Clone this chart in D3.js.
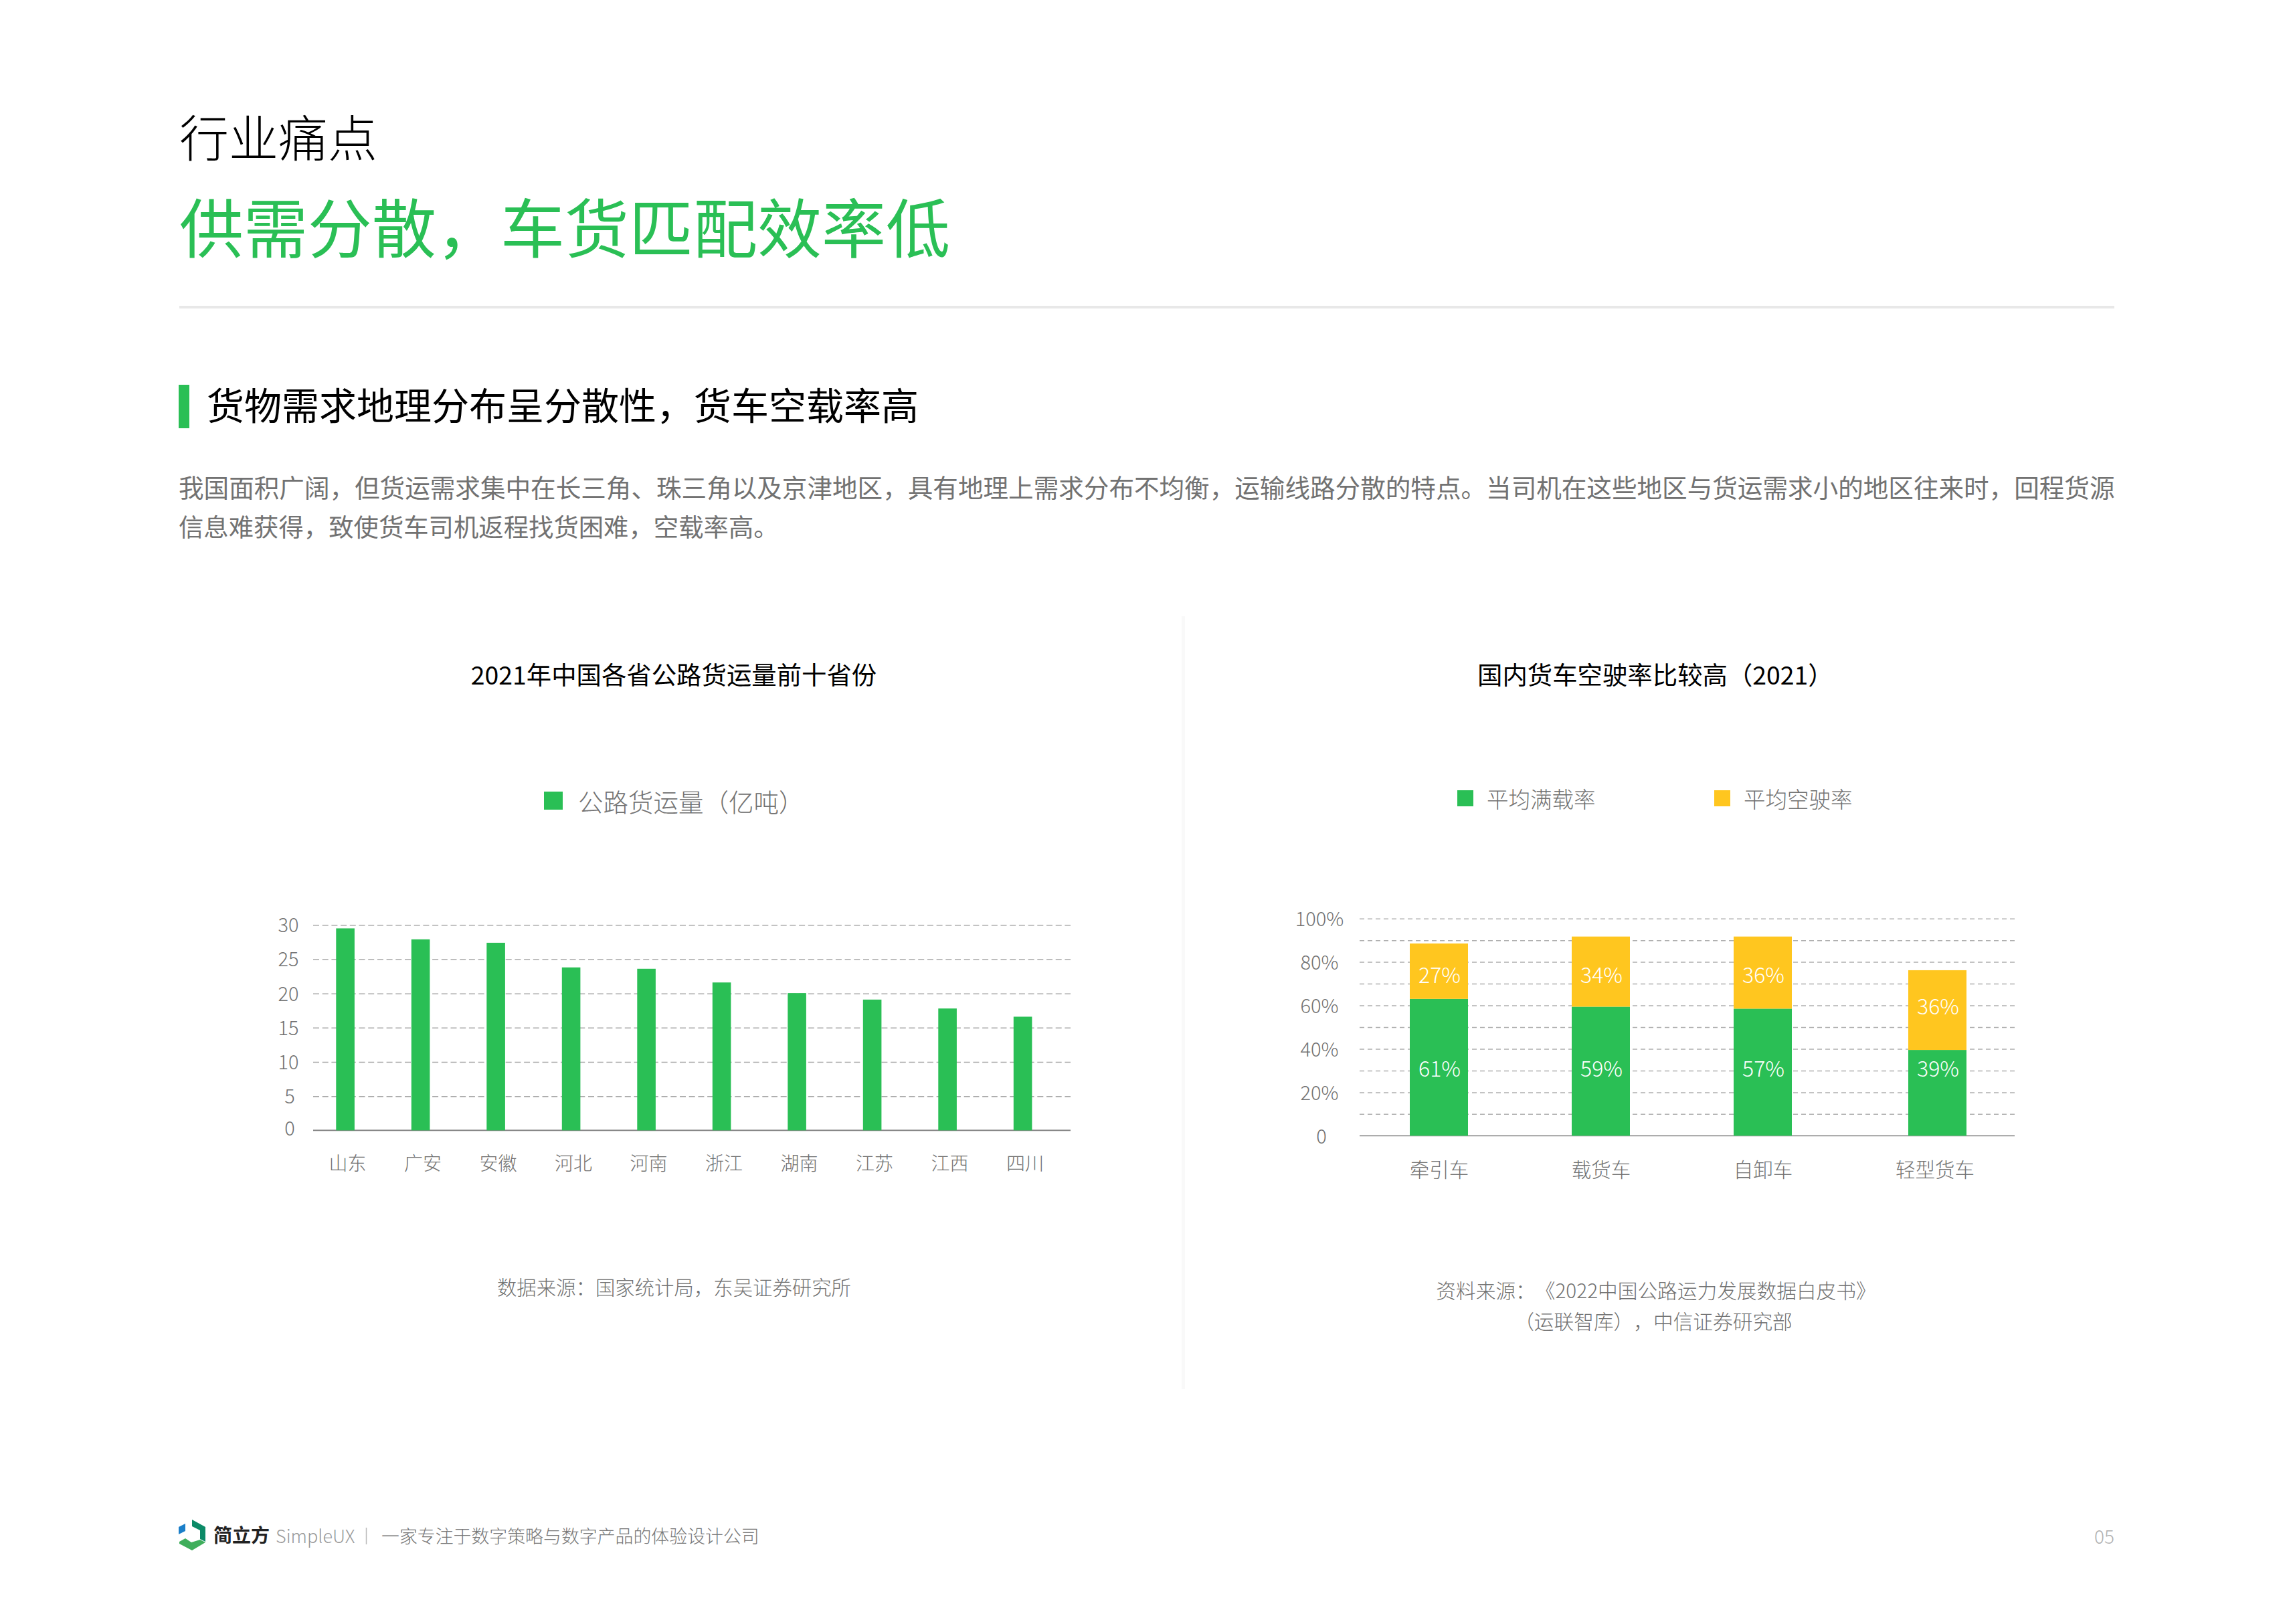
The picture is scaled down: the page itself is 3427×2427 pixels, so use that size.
<!DOCTYPE html>
<html>
<head>
<meta charset="utf-8">
<script src="https://cdn.jsdelivr.net/npm/d3@7"></script>
<style>
  body { margin: 0; background: #fff; }
  svg text { font-family: "Noto Sans CJK SC", "Noto Sans", sans-serif; text-spacing-trim: space-all; }
</style>
</head>
<body>
<div id="page"></div>
<script>
const FRAME_WIDTH = 3427;
const FRAME_HEIGHT = 2427;
const GREEN = "#2abf55";
const YELLOW = "#ffc61f";
const GREY = "#727272";

// left chart
const provinces = ["山东", "广安", "安徽", "河北", "河南", "浙江", "湖南", "江苏", "江西", "四川"];
const freight = [29.5, 27.9, 27.4, 23.8, 23.6, 21.6, 20.05, 19.1, 17.8, 16.6];
const freightTicks = [0, 5, 10, 15, 20, 25, 30];

// right chart (bar heights, they do not follow the printed labels)
const trucks = ["牵引车", "载货车", "自卸车", "轻型货车"];
const fullLoad = [63.0, 59.4, 58.5, 39.5];
const emptyLoad = [25.5, 32.3, 33.2, 36.7];
const fullLabels = ["61%", "59%", "57%", "39%"];
const emptyLabels = ["27%", "34%", "36%", "36%"];
const fullLabelLevels = [31.5, 31.5, 31.5, 31.5];
const emptyLabelLevels = [74.5, 74.5, 74.5, 60.3];
const percentTicks = [0, 10, 20, 30, 40, 50, 60, 70, 80, 90, 100];
const percentLabelled = [0, 20, 40, 60, 80, 100];

const paragraph = [
  "我国面积广阔，但货运需求集中在长三角、珠三角以及京津地区，具有地理上需求分布不均衡，运输线路分散的特点。当司机在这些地区与货运需求小的地区往来时，回程货源",
  "信息难获得，致使货车司机返程找货困难，空载率高。"
];

let svg = d3.select("#page")
  .append("svg")
    .attr("width", FRAME_WIDTH)
    .attr("height", FRAME_HEIGHT)
    .style("display", "block");

function addText(str, x, y, size, color, opts) {
  opts = opts || {};
  return svg.append("text")
    .attr("x", x)
    .attr("y", y)
    .attr("font-size", size)
    .attr("fill", color)
    .attr("font-weight", opts.weight || 400)
    .attr("text-anchor", opts.anchor || "start")
    .attr("dominant-baseline", "central")
    .text(str);
}

function addLegend(label, x, y, w, h, textX, textY, size, color) {
  svg.append("rect")
    .attr("x", x).attr("y", y)
    .attr("width", w).attr("height", h)
    .attr("fill", color);
  addText(label, textX, textY, size, GREY, {weight: 300});
}

// header
addText("行业痛点", 268, 201.5, 74, "#000", {weight: 300});
addText("供需分散，车货匹配效率低", 268, 335.5, 96, GREEN);
svg.append("rect")
  .attr("x", 268).attr("y", 457)
  .attr("width", 2892).attr("height", 4)
  .attr("fill", "#e8e8e8");

svg.append("rect")
  .attr("x", 267).attr("y", 575)
  .attr("width", 16).attr("height", 65)
  .attr("fill", GREEN);
addText("货物需求地理分布呈分散性，货车空载率高", 309, 602.5, 56, "#000");

// first line is justified in the original, so it runs a little wider than the second
addText(paragraph[0], 267, 726, 37.58, GREY);
addText(paragraph[1], 267, 786, 37.37, GREY);

// divider between the two charts
svg.append("line")
  .attr("x1", 1768.5).attr("x2", 1768.5)
  .attr("y1", 921).attr("y2", 2076)
  .attr("stroke", "#f9f9f9")
  .attr("stroke-width", 5);

function styleGrid(axisG, dash, color) {
  axisG.select(".domain").remove();
  axisG.selectAll(".tick line")
    .attr("stroke", color)
    .attr("stroke-width", 1.5)
    .attr("stroke-dasharray", dash);
  axisG.selectAll(".tick").filter(function(d) { return d === 0; }).select("line").remove();
}

function build_freight() {
  const LEFT = 468, RIGHT = 1600, TOP = 1382.3, BOTTOM = 1689.3;

  addText("2021年中国各省公路货运量前十省份", 1007, 1006.5, 37.4, "#000", {anchor: "middle"});
  addLegend("公路货运量（亿吨）", 813, 1183, 28, 27, 864, 1196, 37.5, GREEN);

  let x = d3.scaleBand()
    .domain(provinces)
    .range([459.85, 1584.85])
    .paddingInner(0.7547)
    .paddingOuter(0.3773);
  let y = d3.scaleLinear()
    .domain([0, 30])
    .range([BOTTOM, TOP]);

  let yAxis = svg.append("g")
    .attr("transform", "translate(" + LEFT + ",0)")
    .call(d3.axisLeft(y).tickValues(freightTicks).tickSize(-(RIGHT - LEFT)));
  styleGrid(yAxis, "9 4.7", "#a8a8a8");
  yAxis.selectAll(".tick text")
    .attr("x", function(d) { return d < 10 ? -35 : -37; })
    .attr("dy", function(d) { return d === 0 ? "0.25em" : "0.36em"; })
    .attr("text-anchor", "middle")
    .attr("font-size", 29)
    .attr("font-weight", 300)
    .attr("fill", GREY);

  svg.append("line")
    .attr("x1", LEFT).attr("x2", RIGHT)
    .attr("y1", BOTTOM).attr("y2", BOTTOM)
    .attr("stroke", "#888")
    .attr("stroke-width", 2);

  svg.append("g").selectAll("rect")
    .data(provinces)
    .enter()
    .append("rect")
      .attr("x", function(d) { return x(d); })
      .attr("y", function(d, i) { return y(freight[i]); })
      .attr("width", x.bandwidth())
      .attr("height", function(d, i) { return BOTTOM - y(freight[i]); })
      .attr("fill", GREEN);

  let xAxis = svg.append("g")
    .attr("transform", "translate(0," + BOTTOM + ")")
    .call(d3.axisBottom(x).tickSize(0).tickPadding(40));
  xAxis.select(".domain").remove();
  xAxis.selectAll(".tick text")
    .attr("dx", 3.5)
    .attr("font-size", 28)
    .attr("font-weight", 300)
    .attr("fill", GREY);

  addText("数据来源：国家统计局，东吴证券研究所", 1007.5, 1922, 29.4, GREY, {anchor: "middle", weight: 300});
}

function build_empty_rate() {
  const LEFT = 2032, RIGHT = 3011, TOP = 1372.7, BOTTOM = 1697.3;
  const BAR_WIDTH = 87;

  addText("国内货车空驶率比较高（2021）", 2208, 1006.5, 37.4, "#000");
  addLegend("平均满载率", 2178, 1181, 24, 24, 2222, 1192, 32.5, GREEN);
  addLegend("平均空驶率", 2562, 1181, 24, 24, 2606, 1192, 32.5, YELLOW);

  // the last bar sits further right than the others, so not a band scale
  let x = d3.scaleOrdinal()
    .domain(trucks)
    .range([2150.5, 2392.5, 2634.5, 2895.5]);
  let y = d3.scaleLinear()
    .domain([0, 100])
    .range([BOTTOM, TOP]);

  let yAxis = svg.append("g")
    .attr("transform", "translate(" + LEFT + ",0)")
    .call(d3.axisLeft(y)
      .tickValues(percentTicks)
      .tickSize(-(RIGHT - LEFT))
      .tickFormat(function(d) {
        if (percentLabelled.indexOf(d) < 0) return "";
        return d === 0 ? "0" : d + "%";
      }));
  styleGrid(yAxis, "7 5", "#b0b0b0");
  yAxis.selectAll(".tick text")
    .attr("x", function(d) { return d === 0 ? -57 : -60; })
    .attr("dy", "0.38em")
    .attr("text-anchor", "middle")
    .attr("font-size", 29)
    .attr("font-weight", 300)
    .attr("fill", GREY);

  svg.append("line")
    .attr("x1", LEFT).attr("x2", RIGHT)
    .attr("y1", BOTTOM).attr("y2", BOTTOM)
    .attr("stroke", "#a0a0a0")
    .attr("stroke-width", 2);

  let stack = svg.append("g");
  stack.selectAll(".full")
    .data(trucks)
    .enter()
    .append("rect")
      .attr("class", "full")
      .attr("x", function(d) { return x(d) - BAR_WIDTH / 2; })
      .attr("y", function(d, i) { return y(fullLoad[i]); })
      .attr("width", BAR_WIDTH)
      .attr("height", function(d, i) { return BOTTOM - y(fullLoad[i]); })
      .attr("fill", GREEN);
  stack.selectAll(".empty")
    .data(trucks)
    .enter()
    .append("rect")
      .attr("class", "empty")
      .attr("x", function(d) { return x(d) - BAR_WIDTH / 2; })
      .attr("y", function(d, i) { return y(fullLoad[i] + emptyLoad[i]); })
      .attr("width", BAR_WIDTH)
      .attr("height", function(d, i) { return y(fullLoad[i]) - y(fullLoad[i] + emptyLoad[i]); })
      .attr("fill", YELLOW);

  trucks.forEach(function(d, i) {
    addText(fullLabels[i], x(d) + 1, y(fullLabelLevels[i]), 32, "#fff", {anchor: "middle", weight: 300});
    addText(emptyLabels[i], x(d) + 1, y(emptyLabelLevels[i]), 32, "#fff", {anchor: "middle", weight: 300});
  });

  let xAxis = svg.append("g")
    .attr("transform", "translate(0," + BOTTOM + ")")
    .call(d3.axisBottom(x).tickSize(0).tickPadding(41));
  xAxis.select(".domain").remove();
  xAxis.selectAll(".tick text")
    .attr("dx", function(d) { return d === "轻型货车" ? -4 : 0; })
    .attr("font-size", 29.5)
    .attr("font-weight", 300)
    .attr("fill", GREY);

  addText("资料来源：《2022中国公路运力发展数据白皮书》", 2475, 1927, 29.7, GREY, {anchor: "middle", weight: 300});
  addText("（运联智库），中信证券研究部", 2471, 1973, 29.7, GREY, {anchor: "middle", weight: 300});
}

function build_footer() {
  let logo = svg.append("g");
  logo.append("polygon")
    .attr("points", "267,2282 277,2277 277,2288 267,2293")
    .attr("fill", "#1b7fc9");
  logo.append("polygon")
    .attr("points", "287,2271 307,2282 307,2304 299,2300 299,2287 287,2281")
    .attr("fill", "#0b8a67");
  logo.append("polygon")
    .attr("points", "268,2304 277,2299 286,2305 299,2301 307,2305 287,2317 268,2307")
    .attr("fill", "#3fae5b");

  addText("简立方", 319, 2293, 28, "#222", {weight: 700});
  addText("SimpleUX", 412, 2294, 27, "#999", {weight: 300});
  svg.append("line")
    .attr("x1", 547.5).attr("x2", 547.5)
    .attr("y1", 2283).attr("y2", 2308)
    .attr("stroke", "#bbb")
    .attr("stroke-width", 1.5);
  addText("一家专注于数字策略与数字产品的体验设计公司", 570, 2294, 26.9, "#777", {weight: 300});
  addText("05", 3160, 2295, 28, "#b0b0b0", {anchor: "end", weight: 300});
}

build_freight();
build_empty_rate();
build_footer();
</script>
</body>
</html>
